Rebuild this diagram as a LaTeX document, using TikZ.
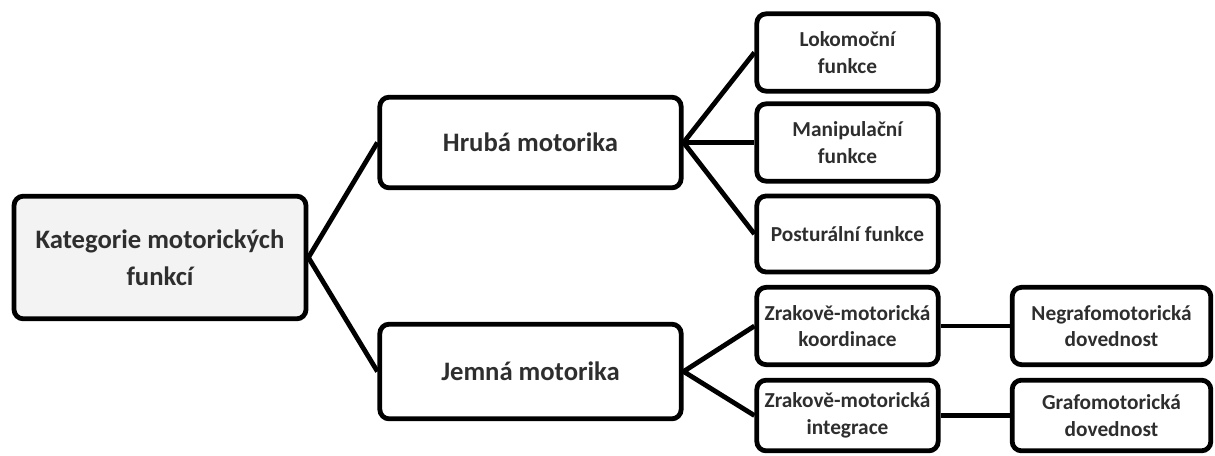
\documentclass[tikz,border=0pt]{standalone}
\usepackage{fontspec}
\setmainfont{Carlito}
\definecolor{txtgrey}{HTML}{2E2E2E}
\definecolor{rootfill}{HTML}{F3F3F3}
\tikzset{every picture/.style={line width=0.75pt}}
\tikzset{
  box/.style={draw, line width=3.6pt, rounded corners=7pt, align=center, text=txtgrey, inner sep=0pt},
  bigbox/.style={box, font=\fontsize{20}{28}\selectfont\bfseries},
  smallbox/.style={box, font=\fontsize{16}{20}\selectfont\bfseries, minimum width=136pt},
  link/.style={line width=3.6pt}
}

\begin{document}
\begin{tikzpicture}[x=0.75pt,y=0.75pt,yscale=-1,xscale=1]
        \useasboundingbox (0,0) rectangle (1215,455);

        % Root
        \node [bigbox, fill=rootfill, minimum width=219pt, minimum height=92pt] (kat) at (160,257.5) {Kategorie motorických\\funkcí};
        % Level 1
        \node [bigbox, minimum width=226pt, minimum height=68pt] (hruba) at (530.5,142.5) {Hrubá motorika};
        \node [bigbox, minimum width=226pt, minimum height=71pt] (jemna) at (530.5,371.5) {Jemná motorika};
        % Level 2
        \node [smallbox, minimum height=58pt] (loko) at (847.5,52.5) {Lokomoční\\funkce};
        \node [smallbox, minimum height=58pt] (mani) at (847.5,142.5) {Manipulační\\funkce};
        \node [smallbox, minimum height=57pt] (post) at (847.5,234) {Posturální funkce};
        \node [smallbox, minimum height=58pt] (koord) at (847.5,326) {Zrakově-motorická\\koordinace};
        \node [smallbox, minimum height=53pt] (integ) at (847.5,415.5) {Zrakově-motorická\\integrace};
        % Level 3
        \node [smallbox, minimum width=149pt, minimum height=58pt] (negr) at (1111.5,326) {Negrafomotorická\\dovednost};
        \node [smallbox, minimum width=149pt, minimum height=53pt] (graf) at (1111.5,415.5) {Grafomotorická\\dovednost};

        % Connectors
        \draw [link] (hruba.west) -- (kat.east) -- (jemna.west);
        \draw [link] (loko.west) -- (hruba.east) -- (post.west);
        \draw [link] (hruba.east) -- (mani.west);
        \draw [link] (koord.west) -- (jemna.east) -- (integ.west);
        \draw [link] (koord.east) -- (negr.west);
        \draw [link] (integ.east) -- (graf.west);

\end{tikzpicture}
\end{document}
